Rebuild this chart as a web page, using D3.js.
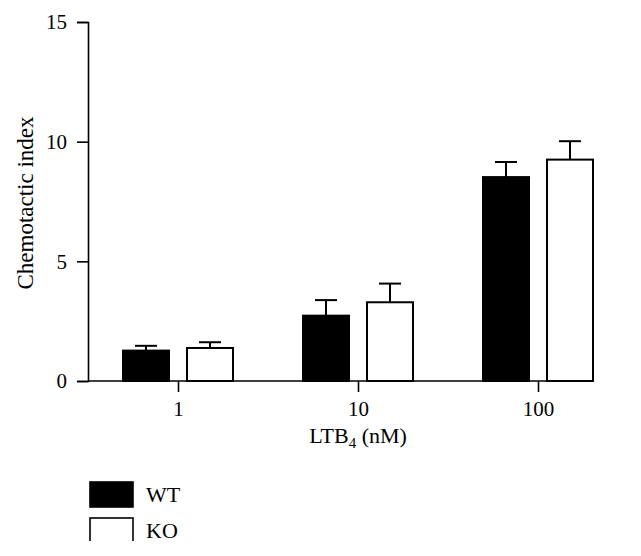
<!DOCTYPE html>
<html><head><meta charset="utf-8">
<script src="https://cdn.jsdelivr.net/npm/d3@7"></script>
<style>body{margin:0;background:#fff}svg{display:block}text{font-family:"Liberation Serif","DejaVu Serif",serif;fill:#000}</style>
</head><body><svg id="c" width="641" height="556"></svg>
<script>
const categories = ["1","10","100"];
const series = ["WT","KO"];
const wtMean = [1.27, 2.73, 8.52];
const wtErr  = [0.20, 0.65, 0.63];
const koMean = [1.38, 3.29, 9.25];
const koErr  = [0.24, 0.78, 0.77];
const yTicks = [0,5,10,15];

const FS = "21px";
const svg = d3.select("#c");
const x0 = d3.scalePoint().domain(categories).range([178, 538]);
const xs = d3.scaleBand().domain(series).range([-56, 56]).paddingInner(0.25).paddingOuter(0);
const y = d3.scaleLinear().domain([0,15]).range([381, 22]);

const fills = {WT:"#000", KO:"#fff"};
const data = [];
categories.forEach((c,i)=>{
  data.push({c, s:"WT", v:wtMean[i], e:wtErr[i]});
  data.push({c, s:"KO", v:koMean[i], e:koErr[i]});
});

// error bars
const eg = svg.append("g").attr("stroke","#000").attr("stroke-width",2);
data.forEach(d=>{
  const cx = x0(d.c) + xs(d.s) + xs.bandwidth()/2;
  eg.append("line").attr("x1",cx).attr("x2",cx).attr("y1",y(d.v)).attr("y2",y(d.v+d.e));
  eg.append("line").attr("x1",cx-11).attr("x2",cx+11).attr("y1",y(d.v+d.e)).attr("y2",y(d.v+d.e));
});
// bars
svg.append("g").selectAll("rect").data(data).join("rect")
  .attr("x", d=>x0(d.c)+xs(d.s)+1)
  .attr("y", d=>y(d.v))
  .attr("width", xs.bandwidth()-2)
  .attr("height", d=>y(0)-y(d.v))
  .attr("fill", d=>fills[d.s])
  .attr("stroke","#000").attr("stroke-width",2);

// y axis
const ya = svg.append("g").attr("transform","translate(88,0)")
  .call(d3.axisLeft(y).tickValues(yTicks).tickSize(11).tickPadding(10));
ya.select(".domain").attr("stroke-width",1.6);
ya.selectAll(".tick line").attr("stroke-width",1.6);
ya.selectAll("text").style("font-size",FS).attr("font-family","Liberation Serif, serif");

// x axis
svg.append("line").attr("x1",88).attr("x2",590).attr("y1",381).attr("y2",381).attr("stroke","#000").attr("stroke-width",1.6);
const xa = svg.append("g").attr("transform","translate(0,381)")
  .call(d3.axisBottom(x0).tickSize(11).tickPadding(9));
xa.select(".domain").remove();
xa.selectAll(".tick line").attr("stroke-width",1.6);
xa.selectAll("text").style("font-size",FS).attr("font-family","Liberation Serif, serif");

// axis titles
svg.append("text").attr("transform","translate(33,203) rotate(-90)").attr("text-anchor","middle")
  .style("font-size","23px").text("Chemotactic index");
const xt = svg.append("text").attr("x",358).attr("y",443).attr("text-anchor","middle").style("font-size","22px");
xt.append("tspan").text("LTB");
xt.append("tspan").attr("dy",5).style("font-size","15px").text("4");
xt.append("tspan").attr("dy",-5).text(" (nM)");

// legend
svg.append("defs").append("clipPath").attr("id","lc").append("rect").attr("x",0).attr("y",0).attr("width",641).attr("height",541);
const lg = svg.append("g").attr("clip-path","url(#lc)");
series.forEach((s,i)=>{
  const yy = 482 + i*36;
  lg.append("rect").attr("x",90).attr("y",yy).attr("width",43).attr("height",25)
    .attr("fill",fills[s]).attr("stroke","#000").attr("stroke-width",1.6);
  lg.append("text").attr("x",146).attr("y",yy+20).style("font-size","22px").text(s);
});
</script></body></html>
